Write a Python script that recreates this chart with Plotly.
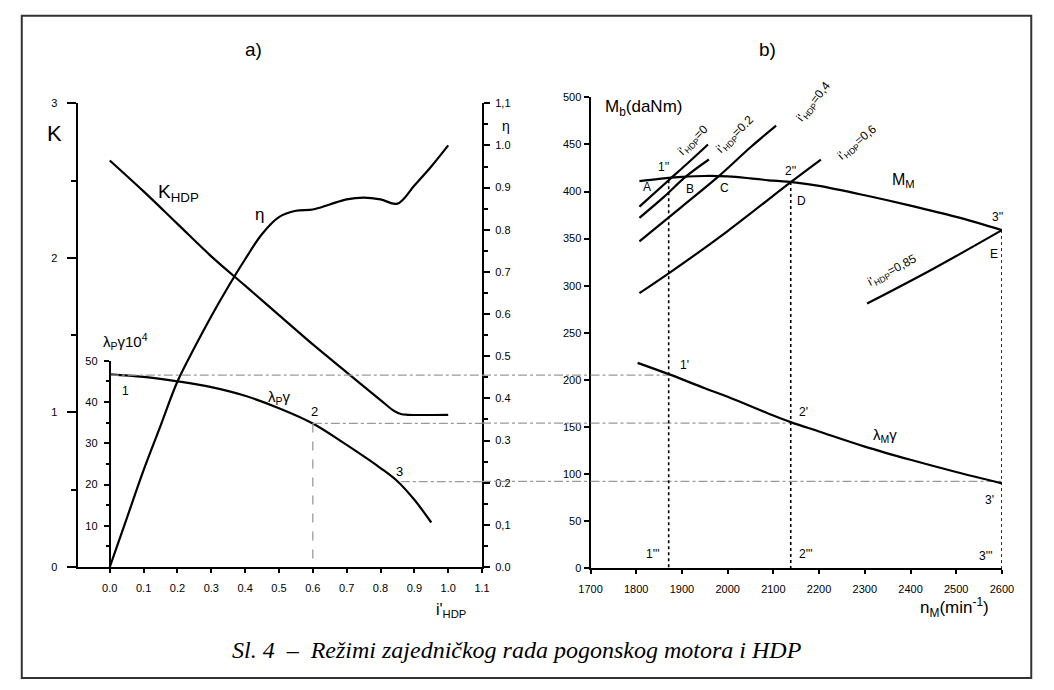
import plotly.graph_objects as go

W, H = 1054, 690
def X(px): return px / W
def Y(py): return 1 - py / H

# ---------------- left panel (a) data ----------------
i_K = [0.0, 0.1, 0.2, 0.3, 0.4, 0.5, 0.6, 0.7, 0.8, 0.84, 0.86, 0.88, 1.0]
K_hdp = [2.63, 2.43, 2.22, 2.01, 1.82, 1.63, 1.44, 1.26, 1.08, 1.01, 0.99, 0.985, 0.985]

i_eta = [0.0, 0.05, 0.1, 0.15, 0.2, 0.25, 0.3, 0.35, 0.4, 0.45, 0.5, 0.55, 0.6, 0.65,
         0.7, 0.75, 0.8, 0.85, 0.9, 0.95, 1.0]
eta = [0.0, 0.115, 0.23, 0.335, 0.44, 0.52, 0.595, 0.665, 0.73, 0.79, 0.83, 0.845, 0.848,
       0.86, 0.872, 0.876, 0.872, 0.862, 0.905, 0.95, 1.0]

i_lam = [0.0, 0.1, 0.2, 0.3, 0.4, 0.5, 0.6, 0.7, 0.8, 0.85, 0.9, 0.95]
lam_p = [46.7, 46.1, 45.0, 43.6, 41.5, 38.5, 34.8, 29.6, 24.0, 20.8, 16.3, 10.8]

pt_i = [0.0, 0.6, 0.86]          # operating points 1, 2, 3
pt_lam = [46.5, 34.8, 20.7]

# ---------------- right panel (b) data ----------------
n_MM = [1807, 1850, 1900, 1950, 2000, 2050, 2100, 2150, 2200, 2300, 2400, 2500, 2600]
M_MM = [411, 413.5, 415.5, 416.5, 416, 414, 411.5, 409.5, 406, 396, 385, 373, 359]

n_lamM = [1803, 1871, 1950, 2000, 2100, 2138, 2200, 2300, 2400, 2500, 2600]
lam_M = [218, 206, 191, 182, 162, 155, 145, 129, 115, 102, 90]

hdp_n = [
    [1807, 1871, 1910, 1957],
    [1807, 1860, 1909, 1959],
    [1807, 1900, 1980, 2050, 2106],
    [1807, 1871, 2000, 2138, 2204],
    [2305, 2450, 2600],
]
hdp_M = [
    [384, 412, 429, 450],
    [372, 394, 416, 434],
    [347, 384, 416, 447, 470],
    [292, 313, 358, 410, 434],
    [281, 318, 359],
]

op_n = [1871, 2138, 2600]
op_M = [412, 410, 359]
op_lam = [205, 154, 92]

# ---------------- layout geometry ----------------
xdomL = [X(68), X(481)]
xdomR = [X(592), X(1013)]

fig = go.Figure()

def curve(x, y, xa, ya):
    fig.add_trace(go.Scatter(x=x, y=y, mode="lines",
                             line=dict(color="black", width=2.2, shape="spline"),
                             xaxis=xa, yaxis=ya))

curve(i_K, K_hdp, "x", "y")
curve(i_eta, eta, "x", "y3")
curve(i_lam, lam_p, "x", "y2")

guide = dict(color="#9a9a9a", width=1.3, dash="dashdot")
for k in range(3):
    fig.add_trace(go.Scatter(x=[pt_i[k], 1.1], y=[pt_lam[k], pt_lam[k]], mode="lines", line=guide,
                             xaxis="x", yaxis="y2"))
    fig.add_trace(go.Scatter(x=[1700, op_n[k]], y=[op_lam[k], op_lam[k]], mode="lines", line=guide,
                             xaxis="x2", yaxis="y4"))
fig.add_trace(go.Scatter(x=[pt_i[1], pt_i[1]], y=[pt_lam[1], 0], mode="lines",
                         line=dict(color="#9a9a9a", width=1.3, dash="dash"), xaxis="x", yaxis="y2"))

curve(n_MM, M_MM, "x2", "y4")
curve(n_lamM, lam_M, "x2", "y4")
for nn, mm in zip(hdp_n, hdp_M):
    curve(nn, mm, "x2", "y4")
for k in range(3):
    fig.add_trace(go.Scatter(x=[op_n[k], op_n[k]], y=[op_M[k], 0], mode="lines",
                             line=dict(color="black", width=1.6, dash="dot"), xaxis="x2", yaxis="y4"))

shapes = []
for k in range(3):
    shapes.append(dict(type="line", xref="paper", yref="y4", x0=xdomL[1], x1=xdomR[0],
                       y0=op_lam[k], y1=op_lam[k], line=guide))
shapes.append(dict(type="rect", xref="paper", yref="paper", x0=X(10), x1=X(1043), y0=Y(684), y1=Y(10),
                   line=dict(color="#333333", width=2)))

tickfont = dict(family="Liberation Sans, Arial", size=11, color="black")
common = dict(showgrid=False, zeroline=False, showline=True, linecolor="black", linewidth=2,
              ticks="outside", tickcolor="black", tickwidth=1.5, tickfont=tickfont)

left_x_vals = [0.0, 0.1, 0.2, 0.3, 0.4, 0.5, 0.6, 0.7, 0.8, 0.9, 1.0, 1.1]
left_x_text = ["0.0", "0.1", "0.2", "0.3", "0.4", "0.5", "0.6", "0.7", "0.8", "0.9", "1.0", "1.1"]
eta_vals = [0.0, 0.1, 0.2, 0.3, 0.4, 0.5, 0.6, 0.7, 0.8, 0.9, 1.0, 1.1]
eta_text = ["0.0", "0,1", "0.2", "0.3", "0.4", "0.5", "0.6", "0.7", "0.8", "0.9", "1.0", "1,1"]

fig.update_layout(
    width=W, height=H, margin=dict(l=0, r=0, t=0, b=0),
    paper_bgcolor="white", plot_bgcolor="rgba(0,0,0,0)", showlegend=False,
    xaxis=dict(domain=xdomL, range=[-0.0925, 1.1], anchor="y", tickvals=left_x_vals,
               ticktext=left_x_text, ticklen=4, ticklabelstandoff=6, **common),
    yaxis=dict(domain=[Y(571), Y(99)], range=[0, 3], anchor="x", tickvals=[0, 1, 2, 3],
               ticklen=9, ticklabelstandoff=8,
               minor=dict(tickvals=[0.5, 1.5, 2.5], ticklen=5, ticks="outside", tickcolor="black"),
               **common),
    yaxis2=dict(domain=[Y(571), Y(361)], range=[0, 50], anchor="free", position=X(100),
                tickvals=[10, 20, 30, 40, 50], ticklen=5, ticklabelstandoff=4,
                minor=dict(tickvals=[5, 15, 25, 35, 45], ticklen=3, ticks="outside", tickcolor="black"),
                **common),
    yaxis3=dict(range=[0, 1.1], overlaying="y", side="right", anchor="x", tickvals=eta_vals,
                ticktext=eta_text, ticklen=6, ticklabelstandoff=3,
                minor=dict(tickvals=[0.05 + 0.1 * j for j in range(11)], ticklen=4, ticks="outside",
                           tickcolor="black"), **common),
    xaxis2=dict(domain=xdomR, range=[1700, 2600], anchor="y4",
                tickvals=list(range(1700, 2601, 100)), ticklen=4, ticklabelstandoff=6, **common),
    yaxis4=dict(domain=[Y(572), Y(93)], range=[0, 500], anchor="x2",
                tickvals=list(range(0, 501, 50)), ticklen=5, **common),
    shapes=shapes,
)

lbl = "Liberation Sans, Arial"
def ann(px, py, text, size=13, angle=0, family=lbl):
    fig.add_annotation(x=X(px), y=Y(py), xref="paper", yref="paper", text=text, showarrow=False,
                       font=dict(family=family, size=size, color="black"), textangle=angle,
                       xanchor="center", yanchor="middle")

ann(247, 44, "a)", 19)
ann(773, 44, "b)", 19)
ann(43, 130, "K", 22)
ann(170, 190, "K<sub>HDP</sub>", 19)
ann(253, 212, "η", 17)
ann(505, 122, "η", 14)
ann(116, 341, "λ<sub>P</sub>γ10<sup>4</sup>", 15)
ann(116, 392, "1", 12)
ann(274, 398, "λ<sub>P</sub>γ", 15)
ann(310, 413, "2", 13)
ann(397, 474, "3", 13)
ann(449, 615, "i'<sub>HDP</sub>", 16)

ann(646, 104, "M<sub>b</sub>(daNm)", 17)
ann(912, 178, "M<sub>M</sub>", 16)
ann(964, 612, "n<sub>M</sub>(min<sup>-1</sup>)", 17)
ann(667, 164, "1''", 12)
ann(650, 184, "A", 12)
ann(694, 186, "B", 12)
ann(729, 185, "C", 12)
ann(797, 168, "2''", 12)
ann(808, 198, "D", 12)
ann(1008, 215, "3''", 12)
ann(1005, 252, "E", 12)
ann(688, 365, "1'", 12)
ann(810, 413, "2'", 12)
ann(893, 437, "λ<sub>M</sub>γ", 15)
ann(1000, 503, "3'", 12)
ann(656, 558, "1'''", 12)
ann(813, 558, "2'''", 12)
ann(997, 560, "3'''", 12)

ann(697, 137, "i'<sub>HDP</sub>=0", 12, -45)
ann(740, 131, "i'<sub>HDP</sub>=0.2", 12, -45)
ann(821, 98, "i'<sub>HDP</sub>=0,4", 12, -52)
ann(865, 139, "i'<sub>HDP</sub>=0,6", 12, -40)
ann(901, 270, "i'<sub>HDP</sub>=0,85", 12, -28)

ann(517, 655, "<i>Sl. 4  –  Režimi zajedničkog rada pogonskog motora i HDP</i>", 24,
    family="Liberation Serif, Times New Roman")

fig.write_html("out.html")
